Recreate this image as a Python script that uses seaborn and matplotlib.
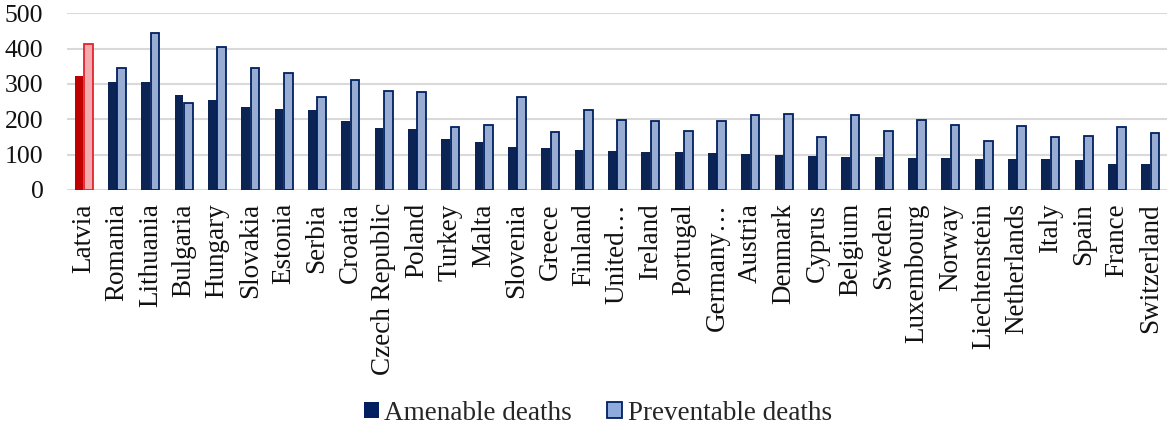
import matplotlib
matplotlib.use("Agg")
import matplotlib.pyplot as plt
from matplotlib.patches import Patch
import pandas as pd
import seaborn as sns

countries = ["Latvia", "Romania", "Lithuania", "Bulgaria", "Hungary", "Slovakia",
             "Estonia", "Serbia", "Croatia", "Czech Republic", "Poland", "Turkey",
             "Malta", "Slovenia", "Greece", "Finland", "United…", "Ireland",
             "Portugal", "Germany…", "Austria", "Denmark", "Cyprus", "Belgium",
             "Sweden", "Luxembourg", "Norway", "Liechtenstein", "Netherlands",
             "Italy", "Spain", "France", "Switzerland"]
amenable = [323, 307, 305, 270, 255, 235, 229, 227, 195, 175, 173, 144,
            135, 121, 120, 112, 109, 108, 107, 105, 101, 99, 95, 93,
            92, 91, 90, 89, 89, 89, 85, 73, 73]
preventable = [412, 346, 443, 245, 405, 346, 332, 263, 310, 279, 278, 177,
               184, 262, 165, 226, 197, 196, 168, 195, 211, 214, 150, 212,
               167, 197, 183, 140, 181, 151, 154, 178, 160]
series_names = ["Amenable deaths", "Preventable deaths"]
y_ticks = [0, 100, 200, 300, 400, 500]

NAVY = "#002060"
LIGHT_BLUE = "#8FAADC"
RED = "#C00000"
PINK = "#F4AAAE"
PINK_EDGE = "#E3242B"
FS = 19.5

df = pd.DataFrame({
    "country": countries * 2,
    "value": amenable + preventable,
    "series": [series_names[0]] * len(countries) + [series_names[1]] * len(countries),
})

sns.set_theme(style="white")
plt.rcParams["font.family"] = ["Liberation Serif", "DejaVu Serif"]

fig = plt.figure(figsize=(11.72, 4.29), dpi=100)
ax = fig.add_axes([67 / 1172, 1 - 190 / 429, 1100 / 1172, (190 - 13.3) / 429])

sns.barplot(data=df, x="country", y="value", hue="series", order=countries,
            hue_order=series_names, palette=[NAVY, LIGHT_BLUE],
            width=0.56, gap=0.06, legend=False, ax=ax, zorder=3)

amen_bars, prev_bars = ax.containers[0], ax.containers[1]
for bar in amen_bars:
    bar.set_edgecolor("none")
for bar in prev_bars:
    bar.set_edgecolor(NAVY)
    bar.set_linewidth(1.3)

# Highlight Latvia
amen_bars[0].set_facecolor(RED)
prev_bars[0].set_facecolor(PINK)
prev_bars[0].set_edgecolor(PINK_EDGE)

ax.set_ylim(0, 500)
ax.set_xlim(-0.5, len(countries) - 0.5)
ax.set_yticks(y_ticks)
ax.yaxis.grid(True, color="#D9D9D9", linewidth=1.5, zorder=0)
ax.set_axisbelow(True)
for s in ax.spines.values():
    s.set_visible(False)
ax.set_xlabel("")
ax.set_ylabel("")
ax.tick_params(axis="y", length=0, pad=17, labelsize=18.5, labelcolor="#111111")
ax.tick_params(axis="x", length=0, pad=9.5, labelsize=FS, labelcolor="#111111")
ax.set_xticks(range(len(countries)))
ax.set_xticklabels(countries, rotation=90, ha="center", va="top")

handles = [Patch(facecolor=NAVY, edgecolor="none", label=series_names[0]),
           Patch(facecolor=LIGHT_BLUE, edgecolor=NAVY, linewidth=1.3, label=series_names[1])]
fig.legend(handles=handles, loc="center", bbox_to_anchor=(598 / 1172, 1 - 413 / 429),
           ncol=2, frameon=False, fontsize=FS, handlelength=0.55, handleheight=0.55,
           handletextpad=0.2, columnspacing=1.3, borderaxespad=0)

fig.savefig("out.png", dpi=100)
